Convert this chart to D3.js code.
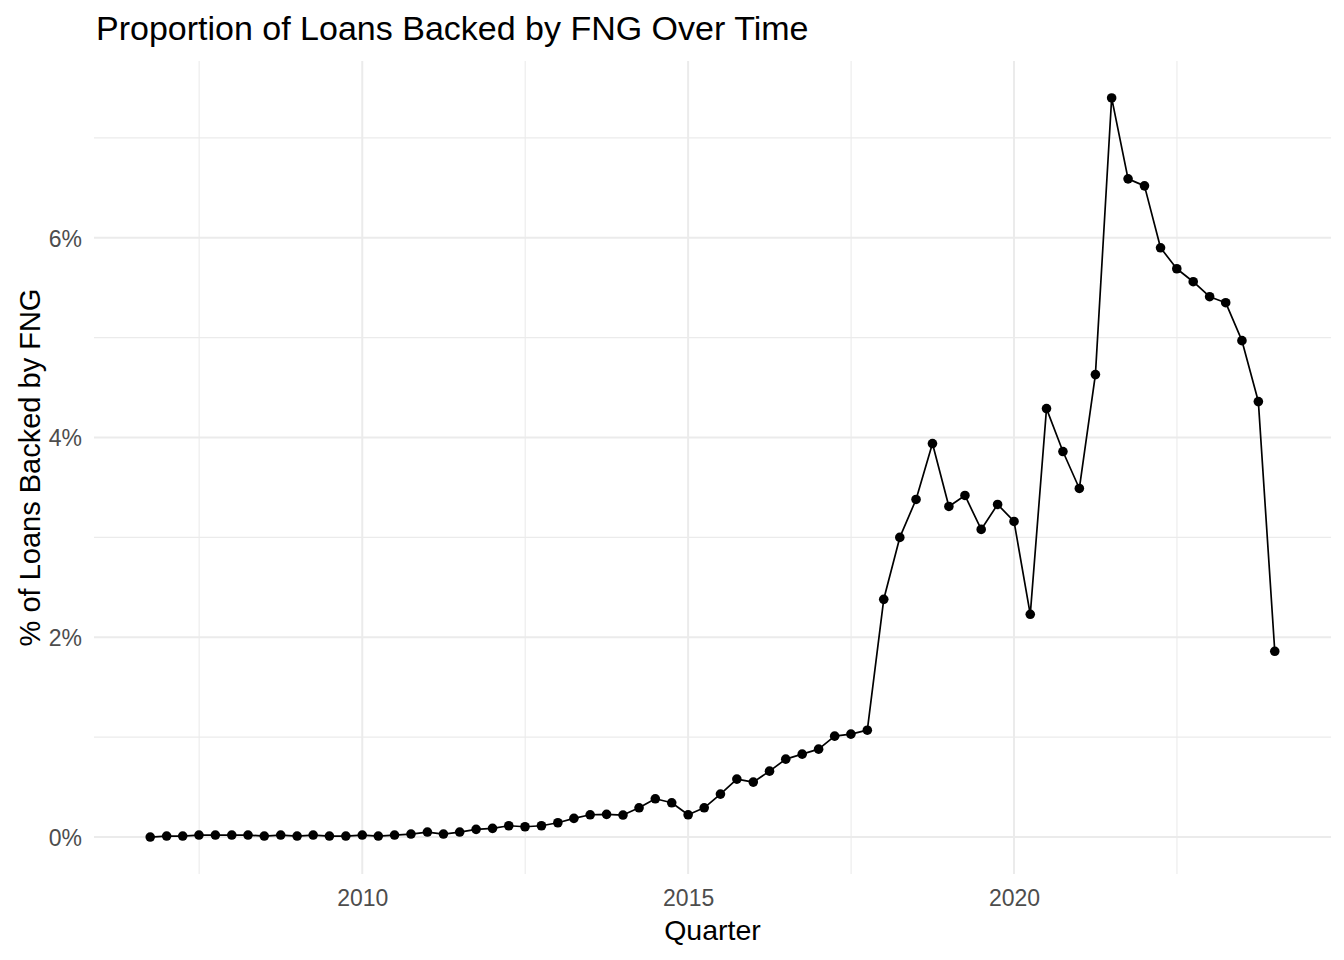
<!DOCTYPE html>
<html>
<head>
<meta charset="utf-8">
<script src="https://cdn.jsdelivr.net/npm/d3@7"></script>
<style>
  html, body { margin: 0; padding: 0; background: #ffffff; }
  svg { display: block; font-family: "Liberation Sans", Arial, sans-serif; }
</style>
</head>
<body>
<svg id="chart" width="1344" height="960"></svg>
<script>
// ---- Data ----
const quarters = [
  "2006-10-01","2007-01-01","2007-04-01","2007-07-01","2007-10-01",
  "2008-01-01","2008-04-01","2008-07-01","2008-10-01",
  "2009-01-01","2009-04-01","2009-07-01","2009-10-01",
  "2010-01-01","2010-04-01","2010-07-01","2010-10-01",
  "2011-01-01","2011-04-01","2011-07-01","2011-10-01",
  "2012-01-01","2012-04-01","2012-07-01","2012-10-01",
  "2013-01-01","2013-04-01","2013-07-01","2013-10-01",
  "2014-01-01","2014-04-01","2014-07-01","2014-10-01",
  "2015-01-01","2015-04-01","2015-07-01","2015-10-01",
  "2016-01-01","2016-04-01","2016-07-01","2016-10-01",
  "2017-01-01","2017-04-01","2017-07-01","2017-10-01",
  "2018-01-01","2018-04-01","2018-07-01","2018-10-01",
  "2019-01-01","2019-04-01","2019-07-01","2019-10-01",
  "2020-01-01","2020-04-01","2020-07-01","2020-10-01",
  "2021-01-01","2021-04-01","2021-07-01","2021-10-01",
  "2022-01-01","2022-04-01","2022-07-01","2022-10-01",
  "2023-01-01","2023-04-01","2023-07-01","2023-10-01",
  "2024-01-01"
];

// Percent of loans backed by FNG
const fngShare = [
  0.00, 0.01, 0.01, 0.02, 0.02,
  0.02, 0.02, 0.01, 0.02,
  0.01, 0.02, 0.01, 0.01,
  0.02, 0.01, 0.02, 0.03,
  0.05, 0.03, 0.05, 0.077,
  0.087, 0.113, 0.103, 0.113,
  0.143, 0.187, 0.223, 0.227,
  0.22, 0.293, 0.383, 0.343,
  0.223, 0.293, 0.43, 0.58,
  0.55, 0.66, 0.78, 0.83,
  0.88, 1.01, 1.03, 1.07,
  2.38, 3.00, 3.38, 3.94,
  3.31, 3.42, 3.08, 3.33,
  3.16, 2.23, 4.29, 3.86,
  3.49, 4.63, 7.40, 6.59,
  6.52, 5.90, 5.69, 5.56,
  5.41, 5.35, 4.97, 4.36,
  1.86
];

const yMajorTicks = [0, 2, 4, 6];
const yMinorTicks = [1, 3, 5, 7];
const xMajorTicks = ["2010-01-01", "2015-01-01", "2020-01-01"];
const xMinorTicks = ["2007-07-02", "2012-07-02", "2017-07-02", "2022-07-02"];

const titleText = "Proportion of Loans Backed by FNG Over Time";
const xTitle = "Quarter";
const yTitle = "% of Loans Backed by FNG";

// ---- Layout ----
const W = 1344, H = 960;
const margin = { top: 61, right: 13, bottom: 86, left: 94 };
const parse = d3.utcParse("%Y-%m-%d");

const data = quarters.map((q, i) => ({ date: parse(q), value: fngShare[i] }));

const svg = d3.select("#chart");

// Expanded domains (5% each side, as ggplot does)
const [d0, d1] = d3.extent(data, d => d.date);
const spanX = d1 - d0;
const x = d3.scaleUtc()
  .domain([new Date(+d0 - 0.05 * spanX), new Date(+d1 + 0.05 * spanX)])
  .range([margin.left, W - margin.right]);

const [v0, v1] = d3.extent(data, d => d.value);
const spanY = v1 - v0;
const y = d3.scaleLinear()
  .domain([v0 - 0.05 * spanY, v1 + 0.05 * spanY])
  .range([H - margin.bottom, margin.top]);

const gridColor = "#EBEBEB";

// Minor grid
const grid = svg.append("g");
grid.selectAll("line.ymin").data(yMinorTicks).join("line")
  .attr("x1", margin.left).attr("x2", W - margin.right)
  .attr("y1", d => y(d)).attr("y2", d => y(d))
  .attr("stroke", gridColor).attr("stroke-width", 1.1);
grid.selectAll("line.xmin").data(xMinorTicks).join("line")
  .attr("x1", d => x(parse(d))).attr("x2", d => x(parse(d)))
  .attr("y1", margin.top).attr("y2", H - margin.bottom)
  .attr("stroke", gridColor).attr("stroke-width", 1.1);
// Major grid
grid.selectAll("line.ymaj").data(yMajorTicks).join("line")
  .attr("x1", margin.left).attr("x2", W - margin.right)
  .attr("y1", d => y(d)).attr("y2", d => y(d))
  .attr("stroke", gridColor).attr("stroke-width", 2);
grid.selectAll("line.xmaj").data(xMajorTicks).join("line")
  .attr("x1", d => x(parse(d))).attr("x2", d => x(parse(d)))
  .attr("y1", margin.top).attr("y2", H - margin.bottom)
  .attr("stroke", gridColor).attr("stroke-width", 2);

// Axes (labels only, via d3 axes)
const xAxis = d3.axisBottom(x)
  .tickValues(xMajorTicks.map(parse))
  .tickFormat(d3.utcFormat("%Y"))
  .tickSize(0).tickPadding(0);
const gx = svg.append("g")
  .attr("transform", `translate(0,${H - margin.bottom})`)
  .call(xAxis);
gx.select(".domain").remove();
gx.selectAll("text")
  .attr("dy", null)
  .attr("y", 32)
  .attr("font-size", 23)
  .attr("font-family", "'Liberation Sans', Arial, sans-serif")
  .attr("fill", "#4D4D4D");

const yAxis = d3.axisLeft(y)
  .tickValues(yMajorTicks)
  .tickFormat(d => d + "%")
  .tickSize(0).tickPadding(0);
const gy = svg.append("g")
  .attr("transform", `translate(${margin.left},0)`)
  .call(yAxis);
gy.select(".domain").remove();
gy.selectAll("text")
  .attr("x", -12)
  .attr("dy", "0.36em")
  .attr("font-size", 23)
  .attr("font-family", "'Liberation Sans', Arial, sans-serif")
  .attr("fill", "#4D4D4D");

// Line
const line = d3.line().x(d => x(d.date)).y(d => y(d.value));
svg.append("path")
  .datum(data)
  .attr("d", line)
  .attr("fill", "none")
  .attr("stroke", "#000")
  .attr("stroke-width", 1.7)
  .attr("stroke-linejoin", "round");

// Points
svg.append("g").selectAll("circle").data(data).join("circle")
  .attr("cx", d => x(d.date))
  .attr("cy", d => y(d.value))
  .attr("r", 4.8)
  .attr("fill", "#000");

// Titles
svg.append("text")
  .attr("x", margin.left + 2)
  .attr("y", 40)
  .attr("font-size", 34)
  .attr("fill", "#000")
  .text(titleText);

svg.append("text")
  .attr("x", (margin.left + W - margin.right) / 2)
  .attr("y", 940)
  .attr("text-anchor", "middle")
  .attr("font-size", 28.5)
  .attr("fill", "#000")
  .text(xTitle);

svg.append("text")
  .attr("transform", `translate(40,${(margin.top + H - margin.bottom) / 2}) rotate(-90)`)
  .attr("text-anchor", "middle")
  .attr("font-size", 29)
  .attr("fill", "#000")
  .text(yTitle);
</script>
</body>
</html>
